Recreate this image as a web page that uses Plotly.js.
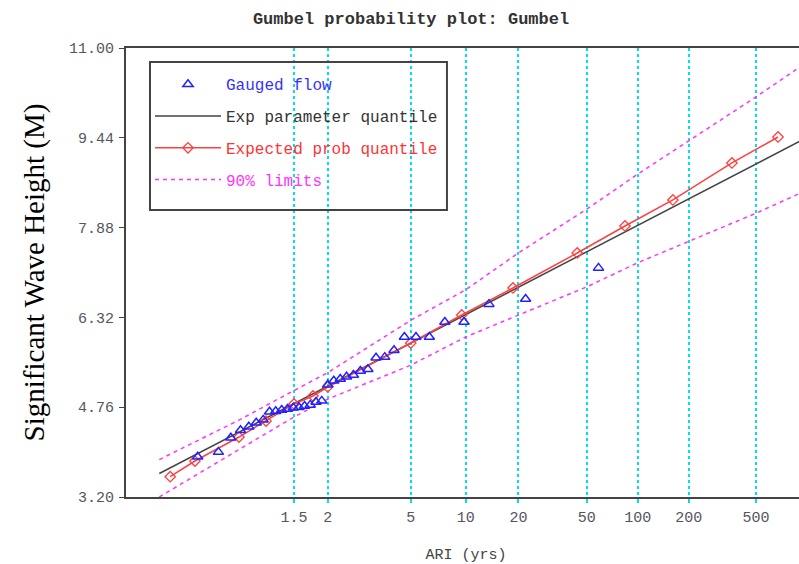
<!DOCTYPE html>
<html>
<head>
<meta charset="utf-8">
<script src="https://cdn.plot.ly/plotly-3.0.1.min.js"></script>
<style>
html,body{margin:0;padding:0;overflow:hidden;background:#fff;}
#chart{width:806px;height:564px;}
</style>
</head>
<body>
<div id="chart"></div>
<script>
// ---- Data (ARI in years, heights in metres) ----
// Gauged flow (annual maxima) with plotting-position ARIs
const gaugedARI = [58.67, 22.0, 13.54, 9.78, 7.65, 6.29, 5.33, 4.63, 4.09, 3.67, 3.32, 3.03, 2.79, 2.59, 2.41, 2.26, 2.12, 2.0, 1.892, 1.796, 1.709, 1.630, 1.558, 1.492, 1.431, 1.375, 1.323, 1.275, 1.231, 1.189, 1.150, 1.114, 1.080, 1.048, 1.017];
const gaugedHeight = [7.18, 6.64, 6.55, 6.24, 6.24, 5.98, 5.98, 5.98, 5.75, 5.63, 5.62, 5.42, 5.39, 5.32, 5.29, 5.25, 5.22, 5.15, 4.87, 4.85, 4.80, 4.78, 4.76, 4.75, 4.73, 4.71, 4.69, 4.68, 4.54, 4.49, 4.42, 4.36, 4.23, 3.98, 3.90];

// Exp parameter quantile
const expARI = [1.001, 1.5, 2, 5, 10, 20, 50, 100, 200, 500, 1000];
const expHeight = [3.608, 4.822, 5.126, 5.874, 6.369, 6.844, 7.459, 7.920, 8.379, 8.985, 9.443];

// Expected probability quantile
const probARI = [1.0026, 1.0145, 1.108, 1.25, 1.5, 1.749, 2, 5, 9.5, 18.6, 44, 84, 161, 360, 675];
const probHeight = [3.553, 3.825, 4.242, 4.520, 4.816, 4.955, 5.111, 5.875, 6.362, 6.831, 7.439, 7.908, 8.360, 9.003, 9.454];

// 90% limits
const limARI = [1.001, 1.02, 1.11, 1.5, 2, 5, 10, 20, 50, 100, 200, 500, 1000];
const limUpper = [3.85, 4.21, 4.54, 5.05, 5.36, 6.27, 6.80, 7.44, 8.20, 8.81, 9.39, 10.15, 10.75];
const limLower = [3.20, 3.62, 4.03, 4.59, 4.90, 5.49, 5.98, 6.36, 6.85, 7.27, 7.64, 8.13, 8.53];

// Axis ticks
const ariTicks = [1.5, 2, 5, 10, 20, 50, 100, 200, 500];
const ariTickText = ['1.5', '2', '5', '10', '20', '50', '100', '200', '500'];
const yTicks = [3.20, 4.76, 6.32, 7.88, 9.44, 11.00];

// Gumbel reduced variate scale
const gumbel = T => -Math.log(-Math.log(1 - 1 / T));
const gx = arr => arr.map(gumbel);

const mono = '"Liberation Mono", "Courier New", monospace';

const traces = [
  {
    x: gx(limARI), y: limUpper, mode: 'lines', type: 'scatter',
    name: '<span style="color:#ff33ff">90% limits</span>',
    legendgroup: 'lim', legendrank: 4,
    line: {color: '#ff33ff', width: 1.5, dash: '4px,4px'}
  },
  {
    x: gx(limARI), y: limLower, mode: 'lines', type: 'scatter',
    name: '90% limits', legendgroup: 'lim', showlegend: false,
    line: {color: '#ff33ff', width: 1.5, dash: '4px,4px'}
  },
  {
    x: gx(expARI), y: expHeight, mode: 'lines', type: 'scatter',
    name: '<span style="color:#333333">Exp parameter quantile</span>',
    legendgroup: 'exp', legendrank: 2,
    line: {color: '#444444', width: 1.5}
  },
  {
    x: gx(probARI), y: probHeight, mode: 'lines+markers', type: 'scatter',
    name: '<span style="color:#ff3333">Expected prob quantile</span>',
    legendgroup: 'prob', legendrank: 3,
    line: {color: '#ff4040', width: 1.5},
    marker: {symbol: 'diamond-open', size: 8, color: '#ff4040', line: {width: 1.3}}
  },
  {
    x: gx(gaugedARI), y: gaugedHeight, mode: 'markers', type: 'scatter',
    name: '<span style="color:#3333ff">Gauged flow</span>',
    legendgroup: 'gauged', legendrank: 1,
    marker: {symbol: 'triangle-up-open', size: 9, color: '#2222ff', line: {width: 1.5}}
  }
];

const layout = {
  width: 806, height: 564,
  margin: {l: 126, r: 0, t: 48, b: 67},
  paper_bgcolor: '#ffffff', plot_bgcolor: '#ffffff',
  showlegend: true,
  title: {
    text: 'Gumbel probability plot: Gumbel',
    font: {family: mono, size: 17, color: '#333333', weight: 'bold'},
    x: 0.51, xanchor: 'center', xref: 'container',
    y: 0.968, yanchor: 'middle', yref: 'container'
  },
  xaxis: {
    range: [-2.3875, 6.896],
    tickmode: 'array', tickvals: gx(ariTicks), ticktext: ariTickText,
    showgrid: true, gridcolor: '#00e0e8', gridwidth: 2, griddash: '3px,3px',
    zeroline: false,
    showline: true, linecolor: '#444444', linewidth: 2, mirror: true,
    ticks: 'outside', ticklen: 4, tickcolor: '#00e0e8', tickwidth: 2,
    tickfont: {family: mono, size: 15, color: '#555560'},
    ticklabelstandoff: 1,
    title: {text: 'ARI (yrs)', font: {family: mono, size: 15, color: '#444444'}, standoff: 22}
  },
  yaxis: {
    range: [3.2, 11.0],
    tickmode: 'array', tickvals: yTicks, tickformat: '.2f',
    showgrid: false, zeroline: false,
    showline: true, linecolor: '#444444', linewidth: 2, mirror: true,
    ticks: 'outside', ticklen: 5, tickcolor: '#444444', tickwidth: 1,
    tickfont: {family: mono, size: 15, color: '#555560'},
    ticklabelstandoff: 2,
    title: {text: 'Significant Wave Height (M)', font: {family: '"Liberation Serif", "Times New Roman", serif', size: 29, color: '#000000'}, standoff: 16}
  },
  legend: {
    x: 0.0353, xanchor: 'left', y: 0.957, yanchor: 'top',
    bgcolor: 'rgba(0,0,0,0)', borderwidth: 0,
    font: {family: mono, size: 16, color: '#333333'},
    traceorder: 'grouped', tracegroupgap: 8, itemwidth: 66
  },
  shapes: [{
    type: 'rect', xref: 'paper', yref: 'paper',
    x0: 0.0353, x1: 0.472, y0: 0.639, y1: 0.969,
    line: {color: '#444444', width: 2}, fillcolor: 'rgba(0,0,0,0)', layer: 'above'
  }]
};

Plotly.newPlot('chart', traces, layout, {displayModeBar: false, staticPlot: true});
</script>
</body>
</html>
